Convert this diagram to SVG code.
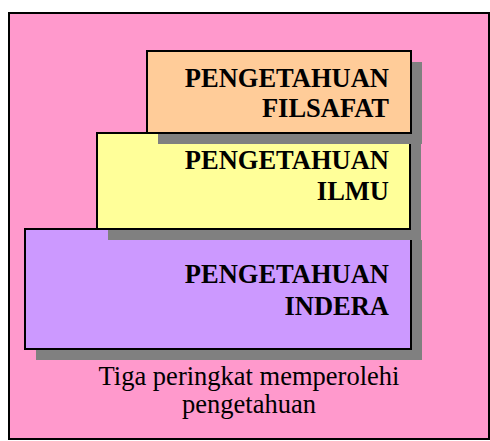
<svg xmlns="http://www.w3.org/2000/svg" width="490" height="441" viewBox="0 0 490 441">
<style>
.box{stroke:#000;stroke-width:2}
.sh{fill:#808080}
.t{font-family:"Liberation Serif","Times New Roman",serif;font-weight:bold;font-size:26.5px;fill:#000;text-anchor:end}
.c{font-family:"Liberation Serif","Times New Roman",serif;font-size:26.5px;fill:#000;text-anchor:middle}
</style>
<rect id="frame" x="9" y="13" width="480" height="426" fill="#FF99CC" stroke="#000" stroke-width="2"/>
<g id="indera">
<rect class="sh" x="36" y="240" width="386" height="120"/>
<rect class="box" x="25" y="229" width="386" height="120" fill="#CC99FF"/>
<text class="t" x="389" y="283">PENGETAHUAN</text>
<text class="t" x="389" y="315">INDERA</text>
</g>
<g id="ilmu">
<rect class="sh" x="108" y="144" width="313" height="96"/>
<rect class="box" x="97" y="133" width="313" height="96" fill="#FFFF99"/>
<text class="t" x="389" y="169">PENGETAHUAN</text>
<text class="t" x="389" y="200">ILMU</text>
</g>
<g id="filsafat">
<rect class="sh" x="158" y="62" width="264" height="82"/>
<rect class="box" x="147" y="51" width="264" height="82" fill="#FFCC99"/>
<text class="t" x="389" y="87">PENGETAHUAN</text>
<text class="t" x="389" y="117">FILSAFAT</text>
</g>
<g id="caption">
<text class="c" x="249" y="385">Tiga peringkat memperolehi</text>
<text class="c" x="249" y="413">pengetahuan</text>
</g>
<g id="connectors"/>
</svg>
